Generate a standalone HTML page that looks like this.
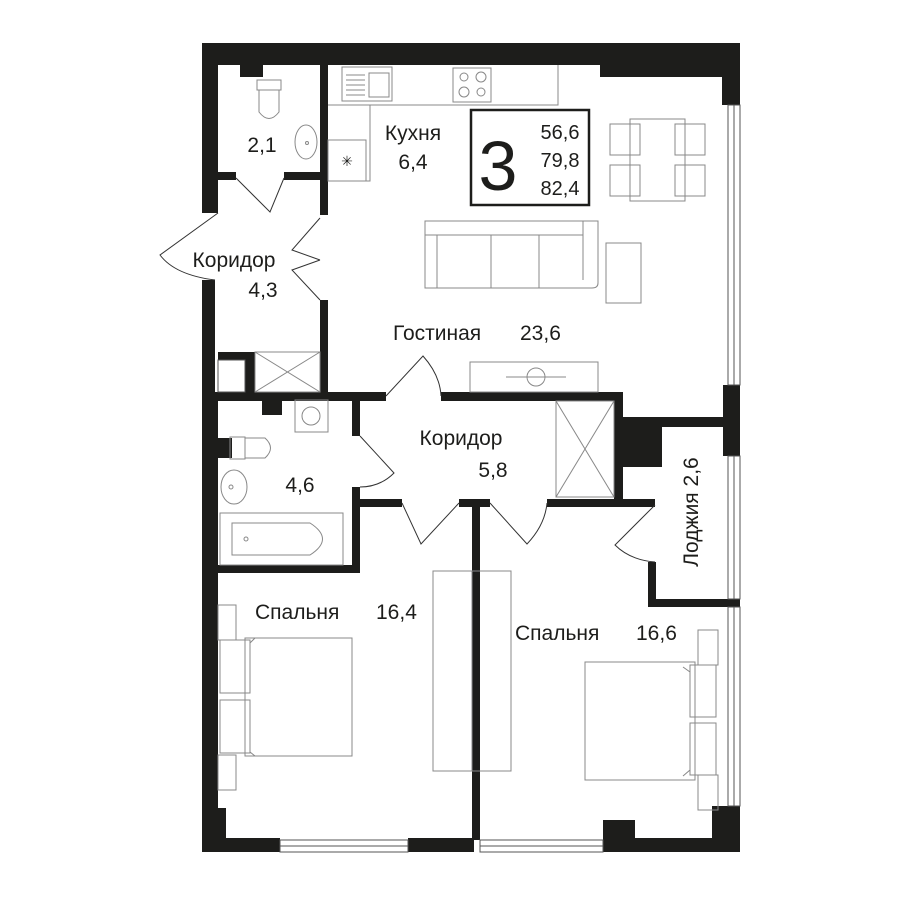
<!DOCTYPE html>
<html><head><meta charset="utf-8"><style>
html,body{margin:0;padding:0;background:#fff;}
svg{display:block;}
text{font-family:"Liberation Sans","DejaVu Sans",sans-serif;fill:#1d1d1b;}
</style></head><body>
<svg width="900" height="900" viewBox="0 0 900 900" xmlns="http://www.w3.org/2000/svg">
<g fill="#1d1d1b">
<rect x="202" y="43" width="538" height="22"/>
<rect x="600" y="43" width="140" height="34"/>
<rect x="722" y="43" width="18" height="62"/>
<rect x="202" y="43" width="16" height="170"/>
<rect x="202" y="280" width="13" height="120"/>
<rect x="202" y="392" width="16" height="420"/>
<rect x="202" y="808" width="24" height="44"/>
<rect x="202" y="838" width="78" height="14"/>
<rect x="408" y="838" width="66" height="14"/>
<rect x="603" y="838" width="137" height="14"/>
<rect x="603" y="820" width="32" height="32"/>
<rect x="723" y="385" width="17" height="71"/>
<rect x="712" y="806" width="28" height="46"/>
<rect x="320" y="65" width="8" height="150"/>
<rect x="240" y="65" width="23" height="12"/>
<rect x="218" y="172" width="18" height="8"/>
<rect x="284" y="172" width="44" height="8"/>
<rect x="320" y="300" width="8" height="100"/>
<rect x="218" y="352" width="37" height="8"/>
<rect x="245" y="352" width="10" height="40"/>
<rect x="202" y="392" width="184" height="9"/>
<rect x="441" y="392" width="182" height="9"/>
<rect x="614" y="392" width="9" height="115"/>
<rect x="614" y="417" width="48" height="50"/>
<rect x="614" y="417" width="111" height="10"/>
<rect x="262" y="400" width="20" height="15"/>
<rect x="217" y="438" width="15" height="20"/>
<rect x="352" y="392" width="8" height="44"/>
<rect x="352" y="487" width="8" height="86"/>
<rect x="202" y="565" width="158" height="8"/>
<rect x="352" y="499" width="50" height="8"/>
<rect x="459" y="499" width="31" height="8"/>
<rect x="547" y="499" width="108" height="8"/>
<rect x="472" y="499" width="8" height="341"/>
<rect x="648" y="562" width="8" height="45"/>
<rect x="648" y="599" width="92" height="8"/>
</g>
<g fill="none" stroke="#555" stroke-width="1">
<rect x="728" y="105" width="12" height="280"/><line x1="734" y1="105" x2="734" y2="385"/>
<rect x="728" y="456" width="12" height="143"/><line x1="734" y1="456" x2="734" y2="599"/>
<rect x="728" y="607" width="12" height="199"/><line x1="734" y1="607" x2="734" y2="806"/>
<rect x="280" y="840" width="128" height="12"/><line x1="280" y1="846" x2="408" y2="846"/>
<rect x="480" y="840" width="123" height="12"/><line x1="480" y1="846" x2="603" y2="846"/>
<rect x="218" y="360" width="27" height="32"/>
</g>
<g fill="none" stroke="#888" stroke-width="1">
<rect x="342" y="67" width="50" height="34"/>
<line x1="346" y1="75" x2="365" y2="75"/><line x1="346" y1="80" x2="365" y2="80"/><line x1="346" y1="85" x2="365" y2="85"/><line x1="346" y1="90" x2="365" y2="90"/><line x1="346" y1="95" x2="365" y2="95"/>
<rect x="369" y="73" width="20" height="24"/>
<rect x="453" y="68" width="38" height="34"/>
<circle cx="464" cy="77" r="4"/><circle cx="481" cy="77" r="5"/><circle cx="464" cy="92" r="5"/><circle cx="481" cy="92" r="4"/>
<polyline points="328,105 370,105 370,181 328,181"/>
<rect x="328" y="140" width="38" height="41"/>
<polyline points="370,105 558,105 558,65"/>
<text x="347" y="166" font-size="14" fill="#777" stroke="none" text-anchor="middle">✳</text>
<rect x="257" y="80" width="24" height="10"/>
<path d="M259 90 L259 112 Q269 125 279 112 L279 90"/>
<ellipse cx="306" cy="142" rx="11" ry="17"/><circle cx="307" cy="143" r="1.5"/>
<rect x="255" y="352" width="65" height="40"/>
<line x1="255" y1="352" x2="320" y2="392"/><line x1="320" y1="352" x2="255" y2="392"/>
<rect x="556" y="401" width="58" height="96"/>
<line x1="556" y1="401" x2="614" y2="497"/><line x1="614" y1="401" x2="556" y2="497"/>
<rect x="470" y="362" width="128" height="30"/>
<line x1="506" y1="377" x2="566" y2="377"/><circle cx="536" cy="377" r="9"/>
<path d="M425 221 L598 221 L598 283 Q598 288 592 288 L425 288 Z"/>
<line x1="425" y1="235" x2="583" y2="235"/><line x1="583" y1="221" x2="583" y2="280"/>
<line x1="437" y1="235" x2="437" y2="288"/><line x1="491" y1="235" x2="491" y2="288"/><line x1="539" y1="235" x2="539" y2="288"/>
<rect x="606" y="243" width="35" height="60"/>
<rect x="630" y="119" width="55" height="82"/>
<rect x="610" y="124" width="30" height="31"/><rect x="610" y="165" width="30" height="31"/>
<rect x="675" y="124" width="30" height="31"/><rect x="675" y="165" width="30" height="31"/>
<rect x="295" y="400" width="33" height="32"/><circle cx="311" cy="416" r="9"/>
<rect x="230" y="437" width="15" height="22"/><path d="M245 438 L265 438 Q276 448 265 458 L245 458"/>
<ellipse cx="234" cy="487" rx="13" ry="17"/><circle cx="231" cy="487" r="2"/>
<rect x="220" y="513" width="123" height="52"/>
<path d="M232 523 L310 523 Q335 539 310 555 L232 555 Z"/><circle cx="246" cy="539" r="2"/>
<rect x="433" y="571" width="78" height="200"/>
<line x1="472" y1="571" x2="472" y2="771"/>
<rect x="218" y="605" width="18" height="35"/><rect x="218" y="755" width="18" height="35"/>
<rect x="220" y="640" width="30" height="53"/><rect x="220" y="700" width="30" height="53"/>
<rect x="245" y="638" width="107" height="118"/>
<path d="M250 660 L250 643 L255 638"/><path d="M250 736 L250 752 L255 756"/>
<rect x="698" y="630" width="20" height="35"/><rect x="698" y="775" width="20" height="35"/>
<rect x="690" y="665" width="26" height="52"/><rect x="690" y="723" width="26" height="52"/>
<rect x="585" y="662" width="110" height="118"/>
<path d="M683 667 L690 672 L690 685"/><path d="M683 776 L690 770 L690 760"/>
</g>
<g fill="none" stroke="#333" stroke-width="1">
<path d="M236 178 L270 212 L284 178"/>
<path d="M218 213 L160 255 Q175 275 215 280"/>
<path d="M320 218 L292 250 L320 260"/>
<path d="M320 300 L292 270 L320 260"/>
<path d="M386 396 L423 356 Q440 375 441 396"/>
<path d="M360 436 L394 473 Q380 487 360 487"/>
<path d="M402 503 L421 544 L459 503"/>
<path d="M490 503 L527 544 Q545 525 547 503"/>
<path d="M655 505 L615 545 Q630 560 655 562"/>
</g>
<rect x="471" y="110" width="118" height="95" fill="none" stroke="#1d1d1b" stroke-width="2.5"/>
<text x="498" y="190" font-size="70" text-anchor="middle">3</text>
<text x="560" y="139" font-size="20" text-anchor="middle">56,6</text>
<text x="560" y="167" font-size="20" text-anchor="middle">79,8</text>
<text x="560" y="195" font-size="20" text-anchor="middle">82,4</text>
<g font-size="21">
<text x="413" y="140" text-anchor="middle">Кухня</text>
<text x="413" y="169" text-anchor="middle">6,4</text>
<text x="262" y="152" text-anchor="middle">2,1</text>
<text x="234" y="267" text-anchor="middle">Коридор</text>
<text x="263" y="297" text-anchor="middle">4,3</text>
<text x="393" y="340">Гостиная</text>
<text x="520" y="340">23,6</text>
<text x="461" y="445" text-anchor="middle">Коридор</text>
<text x="493" y="477" text-anchor="middle">5,8</text>
<text x="300" y="492" text-anchor="middle">4,6</text>
<text x="255" y="619">Спальня</text>
<text x="376" y="619">16,4</text>
<text x="515" y="640">Спальня</text>
<text x="636" y="640">16,6</text>
<text transform="translate(698,512) rotate(-90)" text-anchor="middle">Лоджия  2,6</text>
</g>
</svg>
</body></html>
